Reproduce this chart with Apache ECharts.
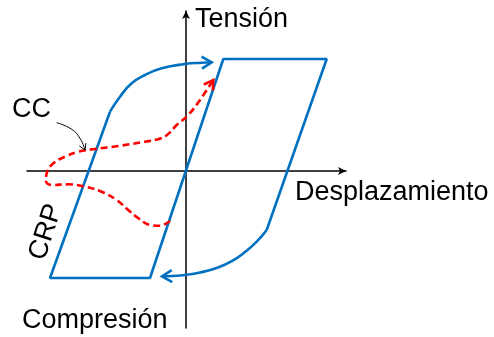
<!DOCTYPE html>
<html>
<head>
<meta charset="utf-8">
<script src="https://cdn.jsdelivr.net/npm/echarts@6/dist/echarts.min.js"></script>
<style>
  html, body { margin: 0; padding: 0; background: #fff; }
  #chart { width: 494px; height: 337px; }
</style>
</head>
<body>
<div id="chart"></div>
<script>
// ciclo de histeresis: tension vs desplazamiento (unidades arbitrarias)
const blueUpper = [[-7.6, 5.93], [-6.6, 7.43], [-5.43, 8.77], [-4.1, 9.6], [-2.43, 10.27], [-0.1, 10.7], [1.57, 10.83], [2.57, 10.87]]
const blueFrame = [[-7.6, 5.93], [-13.6, -10.7], [-3.6, -10.7], [3.73, 11.2], [14.07, 11.2], [8.07, -5.9]]
const blueLower = [[8.07, -5.9], [7.07, -7.07], [5.9, -8.1], [4.6, -9.0], [3.2, -9.65], [1.4, -10.15], [-0.1, -10.4], [-1.3, -10.5], [-2.4, -10.55]]
const redPath = [[-1.6, -5.0], [-2.6, -5.47], [-3.6, -5.4], [-4.77, -4.73], [-5.77, -3.9], [-6.93, -2.9], [-8.43, -2.07],
  [-10.1, -1.57], [-11.77, -1.33], [-13.43, -1.4], [-14.0, -1.0], [-13.93, -0.23], [-13.27, 0.77], [-12.1, 1.43],
  [-10.77, 1.93], [-9.1, 2.2], [-6.77, 2.5], [-4.1, 2.93], [-2.9, 3.15], [-1.9, 3.6], [-0.93, 4.6], [0.23, 5.6],
  [1.4, 7.1], [2.73, 9.1]]
const ccPointer = [[-12.93, 4.83], [-11.43, 4.17], [-10.6, 3.27], [-10.1, 2.1]]

const axisLabels = { x: 'Desplazamiento', yTop: 'Tensión', yBottom: 'Compresión' }
const curveLabels = ['CC', 'CRP']

const BLUE = '#0070C0'
const RED = '#FF0000'
const FONT = '27px "Liberation Sans", Arial, sans-serif'

// punta de flecha a partir de los dos ultimos puntos de cada curva
function arrowItem(line, color, size, width) {
  const a = line[line.length - 2]
  const b = line[line.length - 1]
  return { value: [b[0], b[1], a[0], a[1], size, width], itemStyle: { color } }
}

const chart = echarts.init(document.getElementById('chart'))

chart.setOption({
  animation: false,
  grid: { left: 27, top: 11, width: 319, height: 317 },
  xAxis: {
    type: 'value', min: -15.9, max: 16,
    axisLine: { lineStyle: { color: '#000', width: 1.5 }, symbol: ['none', 'arrow'], symbolSize: [6, 8] },
    axisTick: { show: false }, axisLabel: { show: false }, splitLine: { show: false },
  },
  yAxis: {
    type: 'value', min: -15.7, max: 16,
    axisLine: { lineStyle: { color: '#000', width: 1.5 }, symbol: ['none', 'arrow'], symbolSize: [6, 8] },
    axisTick: { show: false }, axisLabel: { show: false }, splitLine: { show: false },
  },
  series: [
    {
      type: 'line', data: blueFrame, showSymbol: false,
      lineStyle: { color: BLUE, width: 2.6 },
    },
    {
      type: 'line', data: blueUpper, smooth: 0.5, showSymbol: false,
      lineStyle: { color: BLUE, width: 2.6 },
    },
    {
      type: 'line', data: blueLower, smooth: 0.5, showSymbol: false,
      lineStyle: { color: BLUE, width: 2.6 },
    },
    {
      type: 'line', data: redPath, smooth: 0.4, showSymbol: false,
      lineStyle: { color: RED, width: 2.6, type: [7, 4] },
    },
    {
      type: 'line', data: ccPointer, smooth: 0.5, showSymbol: false,
      lineStyle: { color: '#000', width: 1 },
    },
    {
      type: 'custom',
      data: [
        arrowItem(blueUpper, BLUE, 10, 2.6),
        arrowItem(blueLower, BLUE, 10, 2.6),
        arrowItem(redPath, RED, 9, 2.6),
        arrowItem(ccPointer, '#000', 6, 1),
      ],
      renderItem(params, api) {
        const tip = api.coord([api.value(0), api.value(1)])
        const prev = api.coord([api.value(2), api.value(3)])
        const size = api.value(4)
        const ang = Math.atan2(tip[1] - prev[1], tip[0] - prev[0])
        const pt = (dx, dy) => [
          tip[0] + dx * Math.cos(ang) - dy * Math.sin(ang),
          tip[1] + dx * Math.sin(ang) + dy * Math.cos(ang),
        ]
        return {
          type: 'polyline',
          shape: { points: [pt(-size, -size * 0.6), tip, pt(-size, size * 0.6)] },
          style: { stroke: api.visual('color'), lineWidth: api.value(5), fill: null },
        }
      },
      z: 5,
    },
  ],
  graphic: [
    { type: 'text', x: 195, y: 20, style: { text: axisLabels.yTop, font: FONT, fill: '#000', verticalAlign: 'middle' } },
    { type: 'text', x: 295, y: 193, style: { text: axisLabels.x, font: FONT, fill: '#000', verticalAlign: 'middle' } },
    { type: 'text', x: 22, y: 321, style: { text: axisLabels.yBottom, font: FONT, fill: '#000', verticalAlign: 'middle' } },
    { type: 'text', x: 12, y: 110, style: { text: curveLabels[0], font: FONT, fill: '#000', verticalAlign: 'middle' } },
    {
      type: 'text', x: 46, y: 232, rotation: 72 * Math.PI / 180,
      style: { text: curveLabels[1], font: FONT, fill: '#000', align: 'center', verticalAlign: 'middle' },
    },
  ],
})
</script>
</body>
</html>
